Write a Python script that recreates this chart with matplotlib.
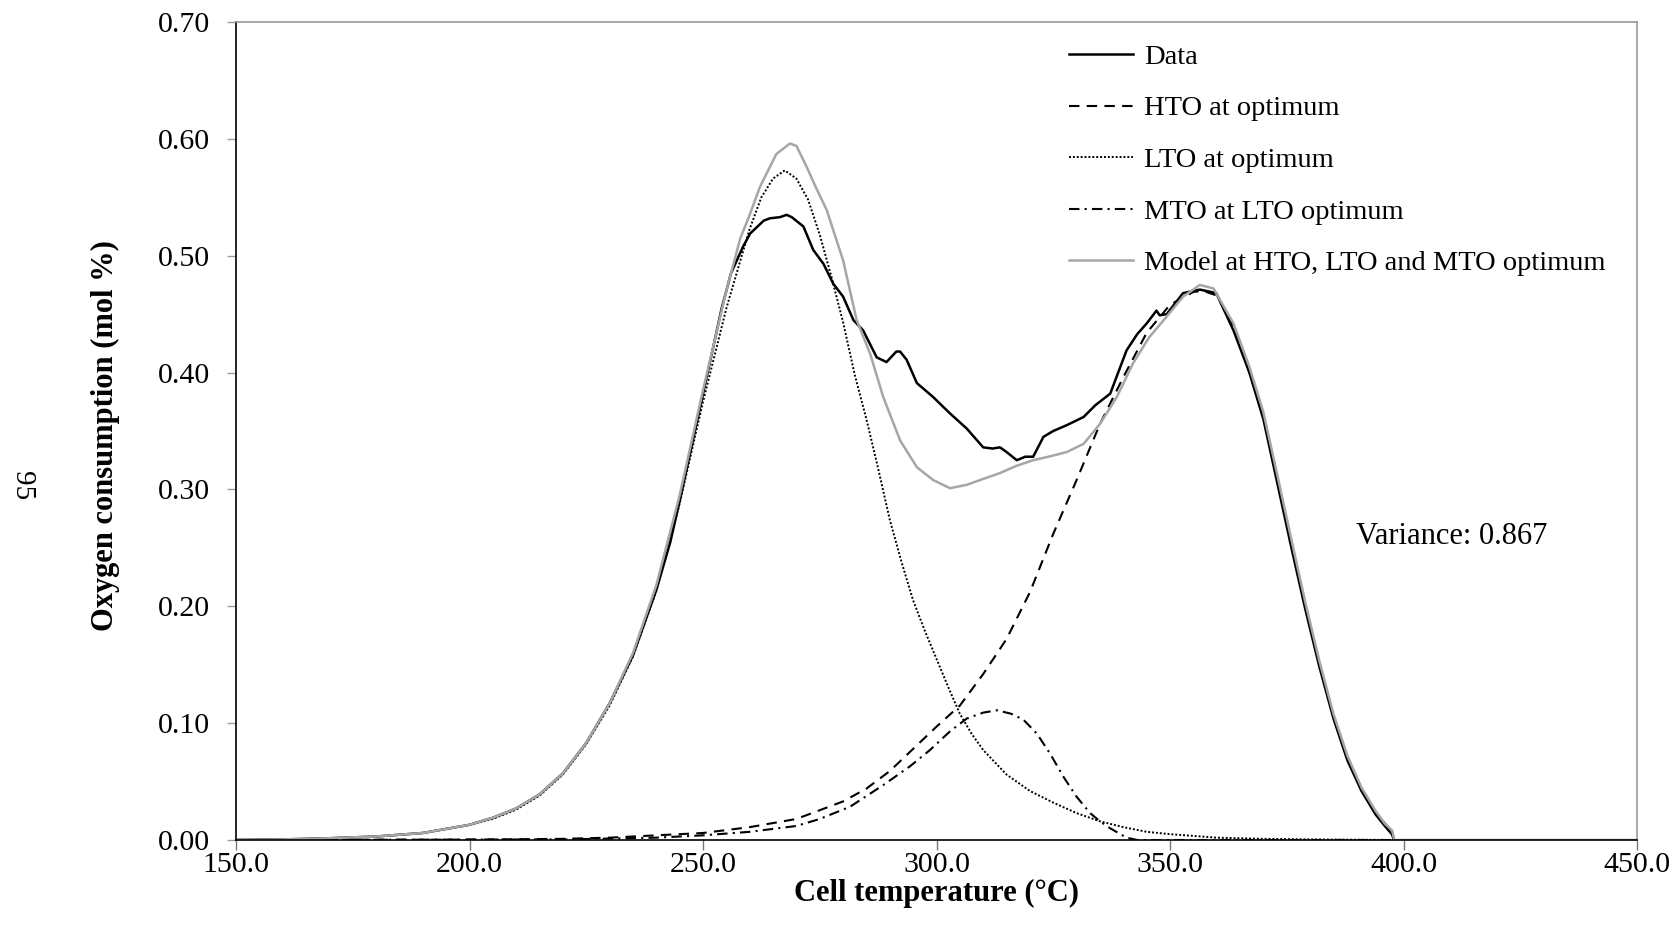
import matplotlib
matplotlib.use("Agg")
import matplotlib.pyplot as plt

# measured oxygen consumption
data_t = [150, 160, 170, 180, 190, 200, 205, 210, 215, 220, 225, 230, 235, 240, 243, 245, 248, 251,
          254, 256, 258.6, 260.1, 263, 264.3, 266.5, 267.9, 269, 271.5, 273.6, 275.8, 277.9, 280,
          282.2, 284.3, 287.2, 289.3, 291.4, 292.2, 293.6, 295.8, 299.3, 302.9, 306.5, 310, 312,
          313.6, 315, 317.2, 319, 320.7, 322.9, 325, 327.9, 331.5, 334, 337.2, 340.7, 343, 345,
          347.1, 347.8, 349.3, 352.8, 356.4, 359.9, 363.6, 367, 370, 373, 376, 379, 382, 385, 388,
          391, 394, 396, 397.5, 398]
data_y = [0.0, 0.0005, 0.0015, 0.003, 0.006, 0.013, 0.019, 0.027, 0.039, 0.057, 0.083, 0.117, 0.158,
          0.214, 0.255, 0.29, 0.345, 0.40, 0.455, 0.485, 0.508, 0.519, 0.530, 0.532, 0.533, 0.535,
          0.533, 0.525, 0.505, 0.493, 0.476, 0.465, 0.445, 0.436, 0.413, 0.409, 0.418, 0.418,
          0.411, 0.391, 0.379, 0.365, 0.352, 0.336, 0.335, 0.336, 0.332, 0.325, 0.328, 0.328,
          0.345, 0.350, 0.355, 0.362, 0.372, 0.382, 0.419, 0.433, 0.442, 0.453, 0.449, 0.450,
          0.468, 0.471, 0.468, 0.436, 0.400, 0.360, 0.305, 0.250, 0.197, 0.148, 0.104, 0.068,
          0.042, 0.022, 0.012, 0.005, 0.0]

# high temperature oxidation fit
hto_t = [150, 200, 220, 230, 240, 250, 260, 270, 280, 285, 290, 295, 300, 305, 310, 315, 320, 325,
         330, 335, 340, 345, 350, 355, 357, 360, 363.6, 367, 370, 373, 376, 379, 382, 385, 388,
         391, 394, 397.5, 398]
hto_y = [0.0, 0.0003, 0.001, 0.002, 0.004, 0.006, 0.011, 0.018, 0.033, 0.044, 0.059, 0.078, 0.097,
         0.115, 0.142, 0.172, 0.212, 0.262, 0.308, 0.356, 0.396, 0.434, 0.458, 0.469, 0.470,
         0.466, 0.440, 0.400, 0.362, 0.309, 0.255, 0.200, 0.151, 0.106, 0.070, 0.044, 0.024,
         0.007, 0.0]

# low temperature oxidation fit
lto_t = [150, 160, 170, 180, 190, 200, 205, 210, 215, 220, 225, 230, 235, 240, 245, 250, 255, 260,
         262.5, 265, 267.5, 270, 272.5, 275, 277.5, 280, 282.5, 285, 287.5, 290, 292.5, 295,
         297.5, 300, 302.5, 305, 307.5, 310, 315, 320, 325, 330, 335, 340, 345, 350, 360, 370,
         380, 398]
lto_y = [0.0, 0.0005, 0.0015, 0.003, 0.006, 0.013, 0.018, 0.026, 0.038, 0.056, 0.082, 0.115, 0.157,
         0.213, 0.288, 0.375, 0.455, 0.523, 0.550, 0.566, 0.573, 0.566, 0.548, 0.518, 0.482,
         0.443, 0.398, 0.360, 0.318, 0.274, 0.238, 0.205, 0.179, 0.155, 0.131, 0.108, 0.091,
         0.077, 0.056, 0.042, 0.032, 0.023, 0.016, 0.011, 0.007, 0.005, 0.002, 0.001, 0.0005, 0.0]

# medium temperature oxidation
mto_t = [150, 220, 240, 250, 260, 270, 275, 281.5, 288.6, 294.3, 298.6, 302.9, 306.5, 310, 313,
         316, 318.6, 321.5, 324.3, 327.2, 330, 332.9, 335, 337.2, 340.7, 343, 398]
mto_y = [0.0, 0.0005, 0.002, 0.004, 0.007, 0.012, 0.018, 0.0285, 0.047, 0.063, 0.077, 0.093, 0.104,
         0.109, 0.111, 0.108, 0.103, 0.091, 0.074, 0.054, 0.037, 0.023, 0.016, 0.010, 0.002, 0.0,
         0.0]

# combined model
model_t = [150, 160, 170, 180, 190, 200, 205, 210, 215, 220, 225, 230, 235, 240, 245, 250, 255, 258,
           260, 262.2, 265.7, 268.6, 270, 272.2, 274, 276.5, 280, 282.9, 285.8, 288.6, 292.2,
           295.8, 299.3, 302.9, 306.5, 310, 313.6, 317, 320.7, 324, 327.9, 331.5, 335, 338.6,
           342.1, 345.5, 349.3, 352.8, 356.4, 359.3, 363.6, 367, 370, 373, 376, 379, 382, 385,
           388, 391, 394, 396, 397.6, 398, 450]
model_y = [0.0, 0.0005, 0.0015, 0.003, 0.006, 0.013, 0.019, 0.027, 0.039, 0.057, 0.083, 0.117, 0.160,
           0.218, 0.295, 0.385, 0.470, 0.515, 0.535, 0.559, 0.587, 0.596, 0.594, 0.576, 0.560,
           0.539, 0.496, 0.445, 0.416, 0.379, 0.342, 0.319, 0.308, 0.301, 0.304, 0.309, 0.314,
           0.320, 0.325, 0.328, 0.332, 0.339, 0.356, 0.379, 0.408, 0.430, 0.448, 0.465, 0.475,
           0.472, 0.442, 0.405, 0.366, 0.312, 0.257, 0.203, 0.153, 0.108, 0.072, 0.045, 0.025,
           0.014, 0.008, 0.0, 0.0]

xticks = [150, 200, 250, 300, 350, 400, 450]
yticks = [0.0, 0.1, 0.2, 0.3, 0.4, 0.5, 0.6, 0.7]

plt.rcParams['font.family'] = ['Liberation Serif', 'DejaVu Serif']

W, H = 1681, 942
fig = plt.figure(figsize=(W / 100, H / 100), dpi=100)
ax = fig.add_axes([236 / W, 1 - 840 / H, (1637 - 236) / W, (840 - 22) / H])

grey = '#a6a6a6'
ax.plot(data_t, data_y, color='black', lw=1.8, label='Data', solid_joinstyle='round')
ax.plot(hto_t, hto_y, color='black', lw=1.5, dashes=(5, 3.5), label='HTO at optimum')
ax.plot(lto_t, lto_y, color='black', lw=1.4, dashes=(1, 1), label='LTO at optimum')
ax.plot(mto_t, mto_y, color='black', lw=1.5, dashes=(5, 2.5, 1, 2.5), label='MTO at LTO optimum')
ax.plot(model_t, model_y, color=grey, lw=1.8, label='Model at HTO, LTO and MTO optimum')

ax.set_xlim(150, 450)
ax.set_ylim(0, 0.7)
ax.set_xticks(xticks)
ax.set_xticklabels([f'{v:.1f}' for v in xticks])
ax.set_yticks(yticks)
ax.set_yticklabels([f'{v:.2f}' for v in yticks])

for side in ('top', 'right'):
    ax.spines[side].set_color('#9a9a9a')
    ax.spines[side].set_linewidth(1.2)
for side in ('left', 'bottom'):
    ax.spines[side].set_color('black')
    ax.spines[side].set_linewidth(1.2)

ax.tick_params(axis='y', direction='out', length=6.5, width=1, color='#9a9a9a',
               labelsize=21.5, pad=12)
ax.tick_params(axis='x', direction='out', length=7, width=1, color='#777777',
               labelsize=21.5, pad=2)

leg = ax.legend(loc='upper left', bbox_to_anchor=((1069 - 236) / 1401, 1 - (44 - 22) / 818),
                frameon=False, fontsize=20.5, handlelength=2.25, handletextpad=0.4,
                labelspacing=0.9, borderaxespad=0, borderpad=0)

fig.text(1356 / W, 1 - 536 / H, 'Variance: 0.867', fontsize=22, va='center', ha='left')
fig.text(105 / W, 1 - 436 / H, 'Oxygen consumption (mol %)', rotation=90, fontsize=22,
         fontweight='bold', ha='center', va='center')
fig.text((236 + 1637) / 2 / W, 1 - 893 / H, 'Cell temperature (°C)', fontsize=22,
         fontweight='bold', ha='center', va='center')
fig.text(22 / W, 1 - 486 / H, '95', rotation=-90, fontsize=21, ha='center', va='center')

fig.savefig('out.png', dpi=100)
